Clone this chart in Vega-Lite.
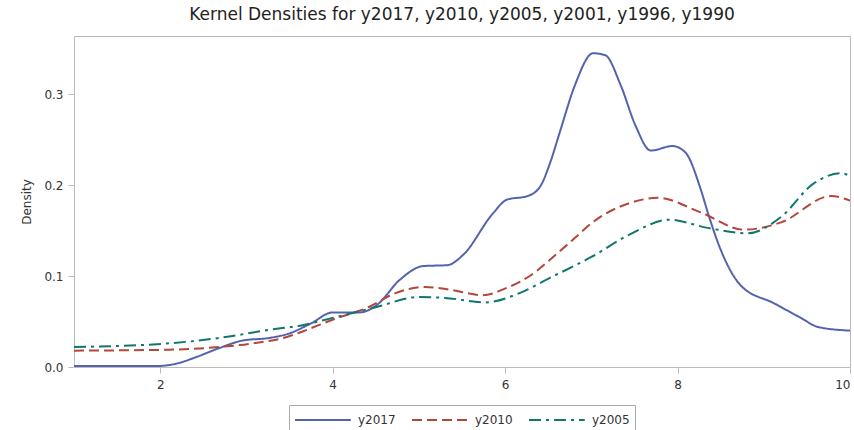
{
  "$schema": "https://vega.github.io/schema/vega-lite/v6.json",
  "autosize": {"type": "none"},
  "width": 776,
  "height": 331,
  "padding": {"left": 74, "top": 36, "right": 4, "bottom": 63},
  "background": "white",
  "title": {
    "text": "Kernel Densities for y2017, y2010, y2005, y2001, y1996, y1990",
    "fontSize": 17,
    "font": "DejaVu Sans",
    "fontWeight": "normal",
    "color": "#222",
    "offset": 12,
    "anchor": "middle"
  },
  "config": {
    "view": {"stroke": "#bbbbbb", "strokeWidth": 1},
    "font": "DejaVu Sans"
  },
  "data": {
    "values": [
      {"x": 1.0, "y": 0.001, "series": "y2017"},
      {"x": 1.95, "y": 0.001, "series": "y2017"},
      {"x": 2.2, "y": 0.004, "series": "y2017"},
      {"x": 2.42, "y": 0.011, "series": "y2017"},
      {"x": 2.69, "y": 0.021, "series": "y2017"},
      {"x": 2.95, "y": 0.029, "series": "y2017"},
      {"x": 3.27, "y": 0.032, "series": "y2017"},
      {"x": 3.5, "y": 0.037, "series": "y2017"},
      {"x": 3.75, "y": 0.048, "series": "y2017"},
      {"x": 4.0, "y": 0.06, "series": "y2017"},
      {"x": 4.31, "y": 0.06, "series": "y2017"},
      {"x": 4.51, "y": 0.068, "series": "y2017"},
      {"x": 4.78, "y": 0.096, "series": "y2017"},
      {"x": 5.05, "y": 0.111, "series": "y2017"},
      {"x": 5.33, "y": 0.112, "series": "y2017"},
      {"x": 5.51, "y": 0.123, "series": "y2017"},
      {"x": 5.86, "y": 0.169, "series": "y2017"},
      {"x": 6.02, "y": 0.184, "series": "y2017"},
      {"x": 6.26, "y": 0.188, "series": "y2017"},
      {"x": 6.41, "y": 0.199, "series": "y2017"},
      {"x": 6.52, "y": 0.224, "series": "y2017"},
      {"x": 6.64, "y": 0.26, "series": "y2017"},
      {"x": 6.81, "y": 0.31, "series": "y2017"},
      {"x": 7.02, "y": 0.345, "series": "y2017"},
      {"x": 7.16, "y": 0.343, "series": "y2017"},
      {"x": 7.34, "y": 0.31, "series": "y2017"},
      {"x": 7.51, "y": 0.266, "series": "y2017"},
      {"x": 7.69, "y": 0.238, "series": "y2017"},
      {"x": 7.94, "y": 0.243, "series": "y2017"},
      {"x": 8.09, "y": 0.236, "series": "y2017"},
      {"x": 8.27, "y": 0.195, "series": "y2017"},
      {"x": 8.36, "y": 0.167, "series": "y2017"},
      {"x": 8.5, "y": 0.129, "series": "y2017"},
      {"x": 8.73, "y": 0.09, "series": "y2017"},
      {"x": 9.12, "y": 0.07, "series": "y2017"},
      {"x": 9.43, "y": 0.054, "series": "y2017"},
      {"x": 9.63, "y": 0.044, "series": "y2017"},
      {"x": 10.0, "y": 0.04, "series": "y2017"},

      {"x": 1.0, "y": 0.018, "series": "y2010"},
      {"x": 2.1, "y": 0.019, "series": "y2010"},
      {"x": 2.69, "y": 0.022, "series": "y2010"},
      {"x": 3.07, "y": 0.026, "series": "y2010"},
      {"x": 3.47, "y": 0.033, "series": "y2010"},
      {"x": 3.62, "y": 0.038, "series": "y2010"},
      {"x": 4.0, "y": 0.052, "series": "y2010"},
      {"x": 4.42, "y": 0.066, "series": "y2010"},
      {"x": 4.72, "y": 0.081, "series": "y2010"},
      {"x": 5.07, "y": 0.088, "series": "y2010"},
      {"x": 5.36, "y": 0.085, "series": "y2010"},
      {"x": 5.74, "y": 0.079, "series": "y2010"},
      {"x": 6.02, "y": 0.087, "series": "y2010"},
      {"x": 6.33, "y": 0.103, "series": "y2010"},
      {"x": 6.52, "y": 0.118, "series": "y2010"},
      {"x": 6.81, "y": 0.142, "series": "y2010"},
      {"x": 7.0, "y": 0.158, "series": "y2010"},
      {"x": 7.47, "y": 0.181, "series": "y2010"},
      {"x": 7.77, "y": 0.186, "series": "y2010"},
      {"x": 8.27, "y": 0.17, "series": "y2010"},
      {"x": 8.77, "y": 0.151, "series": "y2010"},
      {"x": 9.2, "y": 0.159, "series": "y2010"},
      {"x": 9.78, "y": 0.188, "series": "y2010"},
      {"x": 10.0, "y": 0.183, "series": "y2010"},

      {"x": 1.0, "y": 0.022, "series": "y2005"},
      {"x": 2.1, "y": 0.026, "series": "y2005"},
      {"x": 2.69, "y": 0.032, "series": "y2005"},
      {"x": 3.27, "y": 0.041, "series": "y2005"},
      {"x": 3.65, "y": 0.046, "series": "y2005"},
      {"x": 4.0, "y": 0.054, "series": "y2005"},
      {"x": 4.51, "y": 0.066, "series": "y2005"},
      {"x": 5.0, "y": 0.077, "series": "y2005"},
      {"x": 5.3, "y": 0.076, "series": "y2005"},
      {"x": 5.77, "y": 0.071, "series": "y2005"},
      {"x": 6.16, "y": 0.081, "series": "y2005"},
      {"x": 6.52, "y": 0.098, "series": "y2005"},
      {"x": 7.0, "y": 0.121, "series": "y2005"},
      {"x": 7.47, "y": 0.147, "series": "y2005"},
      {"x": 7.9, "y": 0.162, "series": "y2005"},
      {"x": 8.35, "y": 0.153, "series": "y2005"},
      {"x": 8.81, "y": 0.147, "series": "y2005"},
      {"x": 9.2, "y": 0.165, "series": "y2005"},
      {"x": 9.58, "y": 0.202, "series": "y2005"},
      {"x": 9.9, "y": 0.213, "series": "y2005"},
      {"x": 10.0, "y": 0.21, "series": "y2005"}
    ]
  },
  "mark": {"type": "line", "interpolate": "monotone", "strokeWidth": 2},
  "encoding": {
    "x": {
      "field": "x",
      "type": "quantitative",
      "scale": {"domain": [1, 10], "nice": false, "zero": false},
      "axis": {
        "title": null,
        "values": [2, 4, 6, 8, 10],
        "format": "d",
        "grid": false,
        "domain": false,
        "tickColor": "#bbbbbb",
        "tickSize": 6,
        "labelFontSize": 12,
        "labelColor": "#333",
        "labelPadding": 6
      }
    },
    "y": {
      "field": "y",
      "type": "quantitative",
      "scale": {"domain": [0, 0.364], "nice": false},
      "axis": {
        "title": "Density",
        "titleFontSize": 12,
        "titleFontWeight": "normal",
        "titleColor": "#333",
        "titlePadding": 10,
        "values": [0, 0.1, 0.2, 0.3],
        "format": ".1f",
        "grid": false,
        "domain": false,
        "tickColor": "#bbbbbb",
        "tickSize": 6,
        "labelFontSize": 12,
        "labelColor": "#333",
        "labelPadding": 5
      }
    },
    "color": {
      "field": "series",
      "type": "nominal",
      "scale": {"domain": ["y2017", "y2010", "y2005"], "range": ["#5363ad", "#b2473a", "#11766c"]},
      "legend": {
        "title": null,
        "orient": "none",
        "legendX": 215,
        "legendY": 369,
        "direction": "horizontal",
        "symbolType": "M-1,0H5.2",
        "symbolSize": 324,
        "symbolStrokeWidth": 2,
        "labelOffset": 44,
        "labelFontSize": 12,
        "labelColor": "#333",
        "strokeColor": "#aaaaaa",
        "padding": 5,
        "columnPadding": 12
      }
    },
    "strokeDash": {
      "field": "series",
      "type": "nominal",
      "scale": {"domain": ["y2017", "y2010", "y2005"], "range": [[1, 0], [10, 5], [12, 5, 3, 5]]},
      "legend": {
        "title": null,
        "orient": "none",
        "legendX": 215,
        "legendY": 369,
        "direction": "horizontal",
        "symbolType": "M-1,0H5.2",
        "symbolSize": 324,
        "symbolStrokeWidth": 2,
        "labelOffset": 44,
        "labelFontSize": 12,
        "labelColor": "#333",
        "strokeColor": "#aaaaaa",
        "padding": 5,
        "columnPadding": 12
      }
    }
  }
}
